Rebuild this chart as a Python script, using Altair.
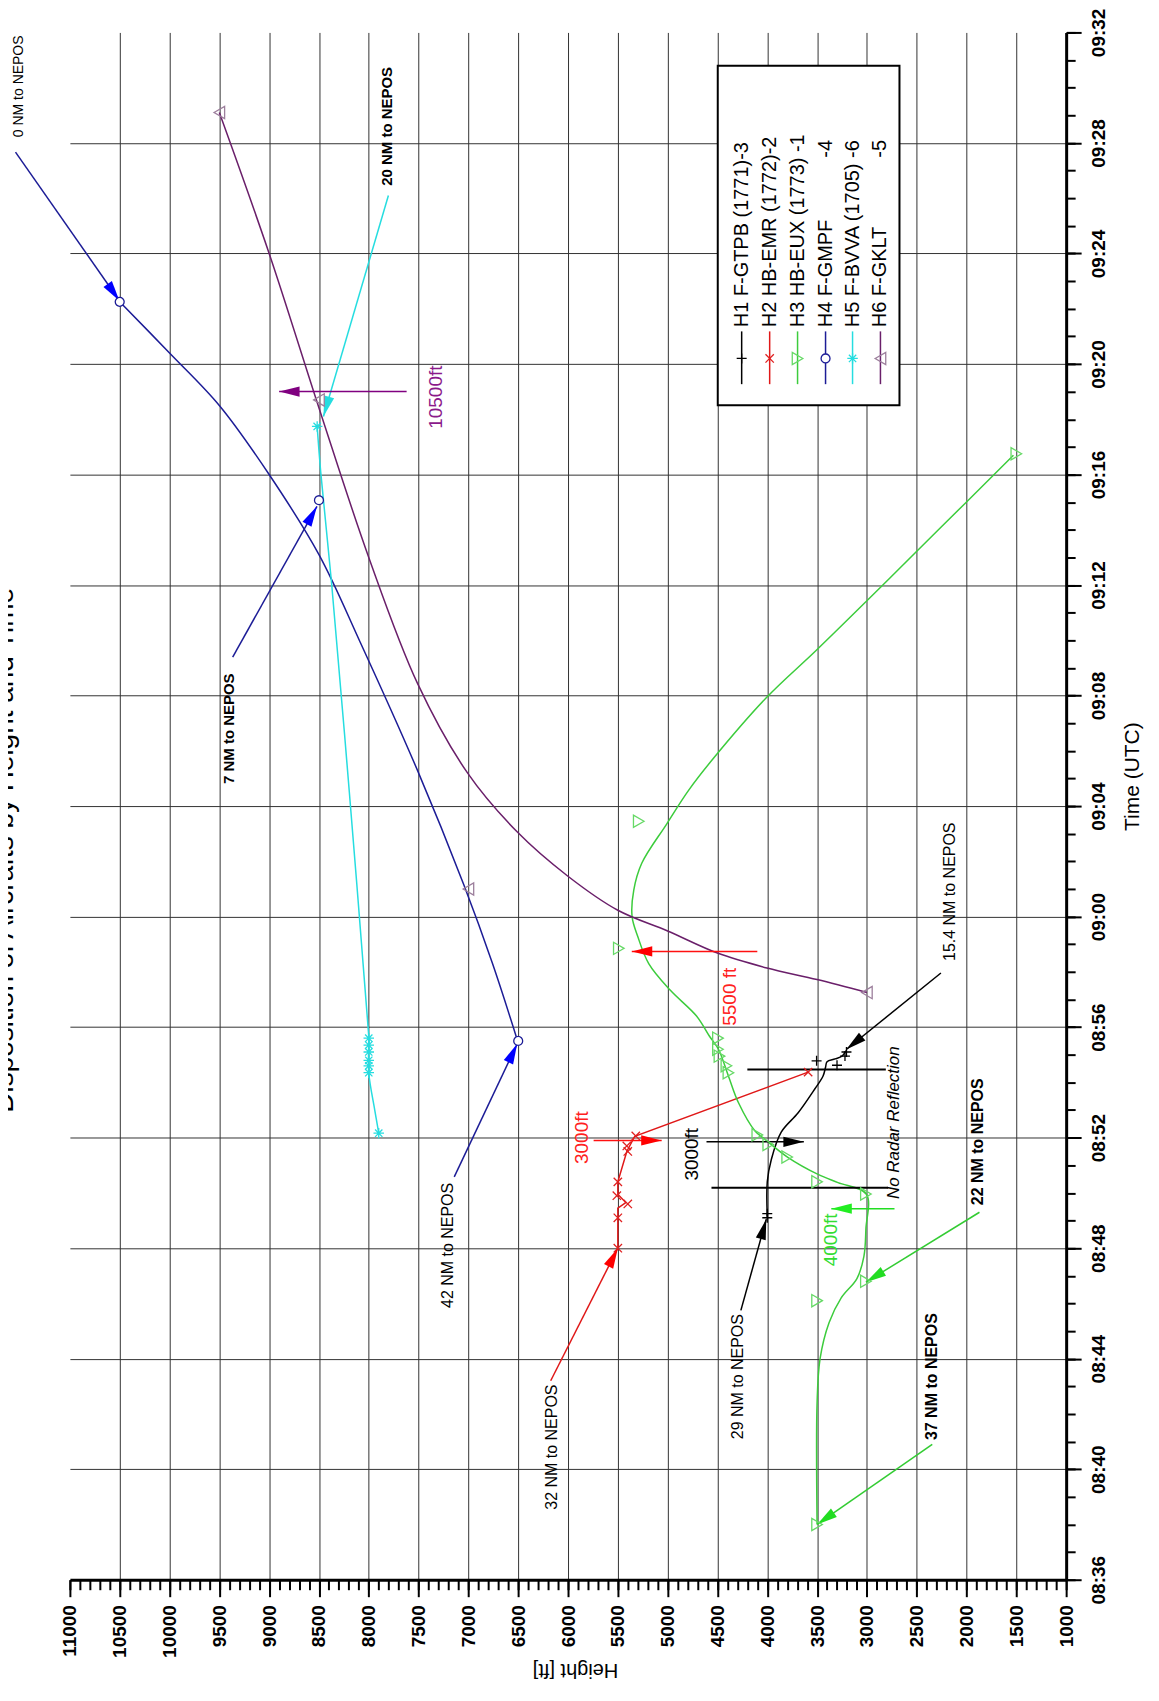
import math
import altair as alt
import pandas as pd

FONT = "Liberation Sans"
W, H = 998, 1550

# ---------------- axes: height in ft, time in minutes after 08:00 UTC ----------------
height_major = list(range(1000, 11001, 500))
height_minor = list(range(1000, 11001, 100))
time_major = list(range(36, 93, 4))
time_minor = list(range(36, 93))

# ---------------- series (line path and marker positions) ----------------
h1_line_ft = [4000, 4000, 3960, 3860, 3690, 3525, 3440, 3415, 3400, 3320, 3250, 3210]
h1_line_min = [49.15, 50.4, 51.2, 52.2, 52.9, 53.75, 54.23, 54.55, 54.75, 54.85, 54.95, 55.15]
h1_mark_ft = [4000, 4000, 3505, 3300, 3220, 3205]
h1_mark_min = [49.1, 49.25, 54.78, 54.62, 54.95, 55.1]

h2_line_ft = [5500, 5500, 5500, 5420, 5500, 5500, 5410, 5330, 3590]
h2_line_min = [48.0, 49.1, 49.45, 49.65, 49.95, 50.4, 51.5, 52.05, 54.37]
h2_mark_ft = [5500, 5500, 5400, 5510, 5500, 5400, 5410, 5320, 3590]
h2_mark_min = [48.0, 49.1, 49.6, 49.9, 50.4, 51.5, 51.7, 52.06, 54.37]

h3_line_ft = [3500, 3500, 3470, 3380, 3258, 3100, 3030, 3010, 3005, 3290, 3490, 3790, 4023,
              4123, 4290, 4390, 4490, 4580, 4710, 4975, 5190, 5300, 5357, 5340, 5260, 5010,
              4790, 4540, 4010, 3510, 3000, 2517, 2005, 1529]
h3_line_min = [38.0, 42.4, 44.0, 45.3, 46.2, 46.9, 47.7, 48.7, 49.95, 50.37, 50.67, 51.28, 51.94,
               52.24, 53.27, 54.23, 55.2, 55.67, 56.4, 57.34, 58.3, 59.28, 60.0, 60.96, 61.93, 63.35,
               64.57, 65.73, 67.92, 69.63, 71.43, 73.16, 74.99, 76.7]
h3_mark_ft = [3500, 3500, 3010, 3010, 3500, 3800, 3990, 4100, 4390, 4410, 4480, 4495, 4495, 5490, 5290, 1500]
h3_mark_min = [38.0, 46.1, 46.8, 49.96, 50.4, 51.3, 51.75, 52.1, 54.35, 54.6, 54.95, 55.2, 55.6, 58.85, 63.45, 76.75]

h4_line_ft = [6506, 6758, 7045, 7512, 8087, 8500, 9000, 9500, 10000, 10500]
h4_line_min = [55.5, 58.3, 61.14, 65.3, 69.94, 73.1, 76.0, 78.5, 80.4, 82.25]
h4_mark_ft = [6500, 8500, 10500]
h4_mark_min = [55.5, 75.07, 82.25]

h5_line_ft = [7900, 7940, 8000, 8000, 8007, 8195, 8374, 8482, 8518]
h5_line_min = [52.16, 53.0, 54.35, 55.6, 56.0, 64.5, 72.1, 76.08, 77.74]
h5_mark_ft = [7900, 8000, 8000, 8000, 8000, 8000, 8000, 8518]
h5_mark_min = [52.16, 54.35, 54.6, 54.8, 55.1, 55.35, 55.6, 77.74]

h6_line_ft = [3000, 3500, 4003, 4500, 5000, 5500, 6004, 6506, 7009, 7512, 8000, 8490, 9000, 9500]
h6_line_min = [57.25, 57.72, 58.14, 58.68, 59.48, 60.23, 61.47, 63.05, 65.2, 68.45, 73.0, 78.3, 84.0, 89.1]
h6_mark_ft = [3000, 7000, 8500, 9500]
h6_mark_min = [57.25, 61.0, 78.7, 89.1]

legend_names = ["H1 F-GTPB (1771)-3", "H2 HB-EMR (1772)-2", "H3 HB-EUX (1773) -1",
                "H4 F-GMPF", "H5 F-BVVA (1705) -6", "H6 F-GKLT"]
legend_suffix = ["", "", "", "-4", "", "-5"]

# ---------------- annotations ----------------
arr_from_ft = [11546, 7803, 9366, 7620, 7142, 6174, 5743, 4610, 4100, 4265, 2723, 2257, 1870, 2344]
arr_from_min = [87.67, 86.1, 69.39, 79.0, 50.58, 43.2, 51.9, 51.85, 58.74, 45.75, 49.43, 57.96, 49.3, 40.9]
arr_to_ft = [10503, 8455, 8520, 8900, 6510, 5500, 5060, 3633, 5360, 4010, 3357, 3207, 3010, 3500]
arr_to_min = [82.29, 78.1, 74.85, 79.0, 55.4, 48.0, 51.9, 51.85, 58.74, 49.05, 49.43, 55.19, 46.77, 38.0]
arr_line_color = ["#1c1c96", "#25dde0", "#1c1c96", "#800080", "#1c1c96", "#e01818", "#ff1010",
                  "#000000", "#ff1010", "#000000", "#22dd22", "#000000", "#33cc33", "#33cc33"]
arr_head_color = ["#0000ff", "#25dde0", "#0000ff", "#800080", "#0000ff", "#ff0000", "#ff0000",
                  "#000000", "#ff0000", "#000000", "#22ee22", "#000000", "#22dd22", "#22dd22"]

bar_from_ft = [4200, 4560]
bar_to_ft = [2810, 2787]
bar_min = [54.47, 50.19]

txt_normal = ["0 NM to NEPOS", "42 NM to NEPOS", "32 NM to NEPOS", "29 NM to NEPOS",
              "15.4 NM to NEPOS", "3000ft", "10500ft", "3000ft", "5500 ft", "4000ft"]
txt_normal_ft = [11510, 7200, 6160, 4295, 2165, 4760, 7330, 5860, 4369, 3360]
txt_normal_min = [90.05, 48.1, 40.8, 43.35, 60.9, 51.4, 78.8, 52.0, 57.1, 48.3]
txt_normal_color = ["#000000", "#000000", "#000000", "#000000", "#000000", "#000000",
                    "#8b1a8b", "#ff2020", "#ff2020", "#33dd33"]
txt_normal_size = [14, 16, 16, 16, 16, 19, 19, 19, 19, 19]

txt_bold = ["20 NM to NEPOS", "7 NM to NEPOS", "22 NM to NEPOS", "37 NM to NEPOS"]
txt_bold_ft = [7815, 9400, 1880, 2350]
txt_bold_min = [88.6, 66.8, 51.85, 43.35]
txt_bold_size = [15, 15, 16, 16]

txt_italic = ["No Radar Reflection"]
txt_italic_ft = [2727]
txt_italic_min = [52.54]

title_text = "Disposition of Aircrafts by Height and Time"

# ---------------- helpers ----------------
XS = alt.Scale(domain=[1000, 11000], reverse=True, nice=False, zero=False)
YS = alt.Scale(domain=[36, 92], nice=False, zero=False)


def enc(hf="h", tf="t"):
    return {"x": alt.X(f"{hf}:Q", scale=XS, axis=None),
            "y": alt.Y(f"{tf}:Q", scale=YS, axis=None)}


PLUS = "M-1,0L1,0M0,-1L0,1"
XMARK = "M-1,-1L1,1M-1,1L1,-1"
ASTER = "M-1,0L1,0M0,-1L0,1M-0.7,-0.7L0.7,0.7M-0.7,0.7L0.7,-0.7"
ARROW = "M0,0L0.5,2L-0.5,2Z"

series = [
    (h1_line_ft, h1_line_min, h1_mark_ft, h1_mark_min, "#000000", "catmull-rom", PLUS, "#000000", 100, None),
    (h2_line_ft, h2_line_min, h2_mark_ft, h2_mark_min, "#e01818", "linear", XMARK, "#e02020", 70, None),
    (h3_line_ft, h3_line_min, h3_mark_ft, h3_mark_min, "#3ccc3c", "catmull-rom", "triangle-right", "#66d966", 150, None),
    (h4_line_ft, h4_line_min, h4_mark_ft, h4_mark_min, "#1c1c96", "catmull-rom", "circle", "#1c1c96", 80, "white"),
    (h5_line_ft, h5_line_min, h5_mark_ft, h5_mark_min, "#25dde0", "catmull-rom", ASTER, "#25dde0", 110, None),
    (h6_line_ft, h6_line_min, h6_mark_ft, h6_mark_min, "#6a1f6a", "catmull-rom", "triangle-left", "#9c7f9c", 150, None),
]


def point_mark(shape, stroke, size, fill):
    if fill:
        return dict(shape=shape, size=size, filled=True, fill=fill, stroke=stroke,
                    strokeWidth=1.3, opacity=1, fillOpacity=1)
    return dict(shape=shape, size=size, filled=False, stroke=stroke, strokeWidth=1.3, opacity=1)


layers = []

# ---- axes (major with grid + labels, minor ticks) ----
axis_df = pd.DataFrame({"h": [1000, 11000], "t": [36, 92]})
time_label = ("(datum.value < 60 ? '08:' : '09:') + (datum.value % 60 < 10 ? '0' : '') + (datum.value % 60)")
major = alt.Chart(axis_df).mark_point(opacity=0).encode(
    x=alt.X("h:Q", scale=XS, axis=alt.Axis(
        orient="bottom", values=height_major, format="d", labelAngle=270, labelAlign="right",
        labelBaseline="middle", labelFont=FONT, labelFontSize=19, labelFontWeight="bold",
        labelColor="black", labelPadding=8, labelFlush=False, labelOverlap=False, labelBound=False,
        tickSize=17, tickWidth=2, tickColor="black", domainColor="black", domainWidth=3,
        grid=True, gridColor="#333333", gridWidth=1,
        gridOpacity={"condition": {"test": "datum.value > 1000 && datum.value < 11000", "value": 1}, "value": 0},
        title="Height [ft]", titleFont=FONT, titleFontSize=20, titleFontWeight="normal",
        titleColor="black", titleAngle=180, titleX=506, titleY=90, titleAlign="center",
        titleBaseline="middle")),
    y=alt.Y("t:Q", scale=YS, axis=alt.Axis(
        orient="right", values=time_major, labelExpr=time_label, labelAngle=270,
        labelAlign="center", labelBaseline="top", labelFont=FONT, labelFontSize=19,
        labelFontWeight="bold", labelColor="black", labelPadding=8, labelFlush=False,
        labelOverlap=False, labelBound=False, tickSize=15, tickWidth=2, tickColor="black",
        domainColor="black", domainWidth=3, grid=True, gridColor="#333333", gridWidth=1,
        gridOpacity={"condition": {"test": "datum.value > 36 && datum.value < 92", "value": 1}, "value": 0},
        title="Time (UTC)", titleFont=FONT, titleFontSize=21, titleFontWeight="normal",
        titleColor="black", titleAngle=270, titleX=66, titleY=745, titleAlign="center",
        titleBaseline="middle")),
)
minor = alt.Chart(axis_df).mark_point(opacity=0).encode(
    x=alt.X("h:Q", scale=XS, title=None, axis=alt.Axis(
        orient="bottom", values=height_minor, labels=False, tickSize=10, tickWidth=2,
        tickColor="black", domain=False, grid=False)),
    y=alt.Y("t:Q", scale=YS, title=None, axis=alt.Axis(
        orient="right", values=time_minor, labels=False, tickSize=9, tickWidth=2,
        tickColor="black", domain=False, grid=False)),
)
layers += [major, minor]

# ---- data lines ----
for lf, lm, mf, mm, lc, interp, shape, mc, msize, mfill in series:
    df = pd.DataFrame({"h": lf, "t": lm, "i": list(range(len(lf)))})
    layers.append(alt.Chart(df).mark_line(color=lc, strokeWidth=1.5, interpolate=interp).encode(
        order=alt.Order("i:Q"), **enc()))

# ---- annotation arrows ----
def screen_angle(h0, t0, h1, t1):
    dx = -(h1 - h0) * W / 10000.0
    dy = -(t1 - t0) * H / 56.0
    return math.degrees(math.atan2(dx, -dy)) % 360

arr = pd.DataFrame({"h0": arr_from_ft, "t0": arr_from_min, "h1": arr_to_ft, "t1": arr_to_min,
                    "lc": arr_line_color, "hc": arr_head_color})
arr["ang"] = [screen_angle(a, b, c, d) for a, b, c, d in zip(arr_from_ft, arr_from_min, arr_to_ft, arr_to_min)]
layers.append(alt.Chart(arr).mark_rule(strokeWidth=1.5).encode(
    x=alt.X("h0:Q", scale=XS, axis=None), x2="h1:Q",
    y=alt.Y("t0:Q", scale=YS, axis=None), y2="t1:Q",
    color=alt.Color("lc:N", scale=None)))
layers.append(alt.Chart(arr).mark_point(shape=ARROW, filled=True, size=420, opacity=1).encode(
    angle=alt.Angle("ang:Q", scale=None), color=alt.Color("hc:N", scale=None), **enc("h1", "t1")))

bars = pd.DataFrame({"h0": bar_from_ft, "h1": bar_to_ft, "t": bar_min})
layers.append(alt.Chart(bars).mark_rule(strokeWidth=2, color="black").encode(
    x=alt.X("h0:Q", scale=XS, axis=None), x2="h1:Q", y=alt.Y("t:Q", scale=YS, axis=None)))

# ---- data markers ----
for lf, lm, mf, mm, lc, interp, shape, mc, msize, mfill in series:
    df = pd.DataFrame({"h": mf, "t": mm})
    layers.append(alt.Chart(df).mark_point(**point_mark(shape, mc, msize, mfill)).encode(**enc()))

# ---- annotation texts ----
tn = pd.DataFrame({"txt": txt_normal, "h": txt_normal_ft, "t": txt_normal_min,
                   "c": txt_normal_color, "fs": txt_normal_size})
layers.append(alt.Chart(tn).mark_text(angle=270, align="center", baseline="middle", font=FONT).encode(
    text="txt:N", color=alt.Color("c:N", scale=None), size=alt.Size("fs:Q", scale=None), **enc()))
tb = pd.DataFrame({"txt": txt_bold, "h": txt_bold_ft, "t": txt_bold_min, "fs": txt_bold_size})
layers.append(alt.Chart(tb).mark_text(angle=270, align="center", baseline="middle", font=FONT,
                                      fontWeight="bold", color="black").encode(
    text="txt:N", size=alt.Size("fs:Q", scale=None), **enc()))
ti = pd.DataFrame({"txt": txt_italic, "h": txt_italic_ft, "t": txt_italic_min})
layers.append(alt.Chart(ti).mark_text(angle=270, align="center", baseline="middle", font=FONT,
                                      fontStyle="italic", fontSize=17, color="black").encode(
    text="txt:N", **enc()))

# ---- legend (drawn inside the plot, rotated like the rest) ----
LEG_BOX = {"h0": [4497], "h1": [2673], "t0": [78.51], "t1": [90.79]}
leg_col_ft = [4257, 3976, 3696, 3415, 3144, 2864]
LEG_SYM_T0, LEG_SYM_T1, LEG_MARK_T, LEG_TEXT_T, LEG_SUFFIX_T = 79.27, 81.18, 80.2, 81.33, 88.11

layers.append(alt.Chart(pd.DataFrame(LEG_BOX)).mark_rect(fill="white", stroke="black", strokeWidth=2).encode(
    x=alt.X("h0:Q", scale=XS, axis=None), x2="h1:Q",
    y=alt.Y("t0:Q", scale=YS, axis=None), y2="t1:Q"))
leg = pd.DataFrame({"h": leg_col_ft, "t0": [LEG_SYM_T0] * 6, "t1": [LEG_SYM_T1] * 6,
                    "c": [s[4] for s in series], "name": legend_names, "suf": legend_suffix,
                    "tt": [LEG_TEXT_T] * 6, "ts": [LEG_SUFFIX_T] * 6, "tm": [LEG_MARK_T] * 6})
layers.append(alt.Chart(leg).mark_rule(strokeWidth=1.5).encode(
    x=alt.X("h:Q", scale=XS, axis=None), y=alt.Y("t0:Q", scale=YS, axis=None), y2="t1:Q",
    color=alt.Color("c:N", scale=None)))
for k, s in enumerate(series):
    shape, mc, msize, mfill = s[6], s[7], s[8], s[9]
    layers.append(alt.Chart(leg.iloc[[k]]).mark_point(**point_mark(shape, mc, msize, mfill)).encode(
        **enc("h", "tm")))
layers.append(alt.Chart(leg).mark_text(angle=270, align="left", baseline="middle", font=FONT,
                                       fontSize=20, color="black").encode(text="name:N", **enc("h", "tt")))
layers.append(alt.Chart(leg).mark_text(angle=270, align="right", baseline="middle", font=FONT,
                                       fontSize=20, color="black").encode(text="suf:N", **enc("h", "ts")))

# ---- title (rotated, at the left edge) ----
title_df = pd.DataFrame({"txt": [title_text], "h": [11571], "t": [62.4]})
layers.append(alt.Chart(title_df).mark_text(angle=270, align="center", baseline="alphabetic", font=FONT,
                                            fontSize=28, color="black").encode(text="txt:N", **enc()))

chart = alt.layer(*layers).resolve_axis(x="independent", y="independent").properties(
    width=W, height=H,
    padding={"left": 62, "top": 23, "right": 85, "bottom": 110},
    autosize=alt.AutoSizeParams(type="none"),
    background="white",
).configure_view(stroke="transparent")

chart.save("out.html", embed_options={"renderer": "svg", "actions": False})
